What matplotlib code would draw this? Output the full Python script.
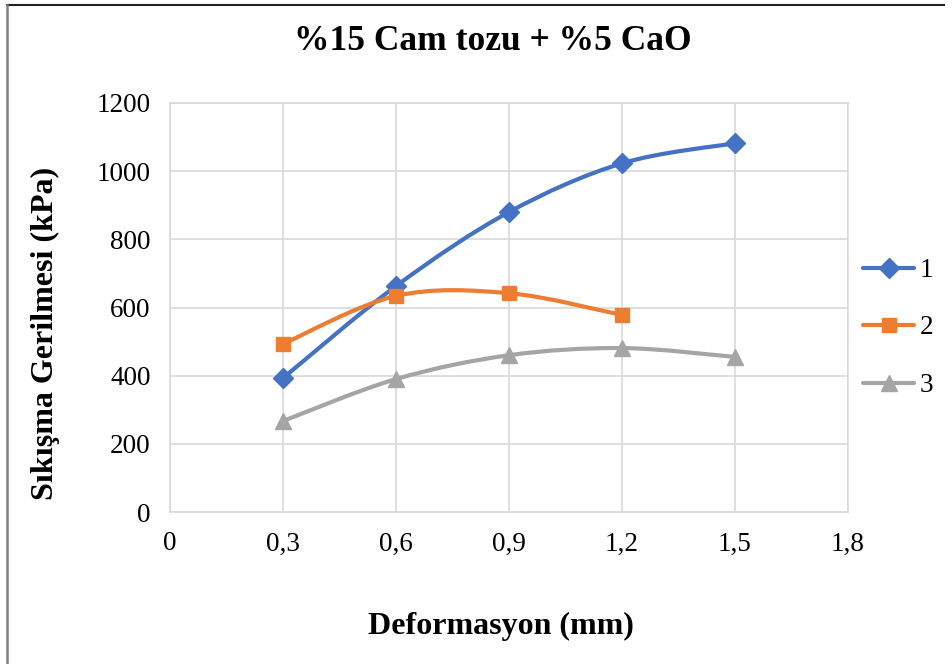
import numpy as np
from matplotlib import pyplot as plt
from matplotlib.path import Path
from matplotlib.patches import PathPatch
from matplotlib.lines import Line2D

plt.rcParams['font.family'] = ['Liberation Serif', 'DejaVu Serif']

# veriler
x1 = [0.3, 0.6, 0.9, 1.2, 1.5]
y1 = [393, 663, 880, 1023, 1082]
x2 = [0.3, 0.6, 0.9, 1.2]
y2 = [493, 634, 642, 578]
x3 = [0.3, 0.6, 0.9, 1.2, 1.5]
y3 = [267, 390, 460, 481, 455]
seriler = ['1', '2', '3']
renkler = ['#4472C4', '#ED7D31', '#A5A5A5']
x_ticks = [0, 0.3, 0.6, 0.9, 1.2, 1.5, 1.8]
x_tick_labels = ['0', '0,3', '0,6', '0,9', '1,2', '1,5', '1,8']
y_ticks = [0, 200, 400, 600, 800, 1000, 1200]


def smooth_path(xs, ys):
    # Excel tarzi yumusak egri (Catmull-Rom -> Bezier)
    p = np.column_stack([xs, ys]).astype(float)
    n = len(p)
    verts = [p[0]]
    codes = [Path.MOVETO]
    for i in range(n - 1):
        p0 = p[i - 1] if i > 0 else p[i]
        p3 = p[i + 2] if i + 2 < n else p[i + 1]
        c1 = p[i] + (p[i + 1] - p0) / 6
        c2 = p[i + 1] - (p3 - p[i]) / 6
        verts += [c1, c2, p[i + 1]]
        codes += [Path.CURVE4] * 3
    return Path(verts, codes)


fig = plt.figure(figsize=(9.53, 6.64), dpi=100)
ax = fig.add_axes([170 / 953, 1 - 512 / 664, 678 / 953, 409 / 664])

markers = ['D', 's', '^']
sizes = [10, 10, 11]
data = [(x1, y1), (x2, y2), (x3, y3)]
handles = []
for (xs, ys), c, m, ms, lab in zip(data, renkler, markers, sizes, seriler):
    ax.add_patch(PathPatch(smooth_path(xs, ys), fill=False, edgecolor=c, lw=3,
                           capstyle='round', zorder=3))
    ax.plot(xs, ys, ls='none', marker=m, ms=ms, color=c, zorder=4)
    handles.append(Line2D([], [], color=c, lw=3, marker=m, ms=ms,
                          solid_capstyle='round', label=lab))

ax.set_xlim(0, 1.8)
ax.set_ylim(0, 1200)
ax.set_xticks(x_ticks)
ax.set_xticklabels(x_tick_labels)
ax.set_yticks(y_ticks)
ax.tick_params(length=0, labelsize=19.5, pad=14)
ax.grid(color='#D9D9D9', lw=1.2)
ax.set_axisbelow(True)
for s in ax.spines.values():
    s.set_color('#D9D9D9')
    s.set_linewidth(1.2)

fig.text(493 / 953, 1 - 42 / 664, '%15 Cam tozu + %5 CaO', ha='center', va='center',
         fontsize=25.5, fontweight='bold')
fig.text(501 / 953, 1 - 626 / 664, 'Deformasyon (mm)', ha='center', va='center',
         fontsize=23, fontweight='bold')
fig.text(45 / 953, 1 - 333 / 664, 'Sıkışma Gerilmesi (kPa)', ha='center', va='center',
         rotation=90, fontsize=23, fontweight='bold')

fig.legend(handles=handles, loc='center left', bbox_to_anchor=(863 / 953, 1 - 328 / 664),
           frameon=False, fontsize=19.5, handlelength=1.9, handletextpad=0.2,
           labelspacing=1.2, borderpad=0, borderaxespad=0)

# grafik cercevesi
fig.add_artist(Line2D([7 / 953, 944 / 953], [1 - 5 / 664, 1 - 5 / 664], color='#222222', lw=1.5))
fig.add_artist(Line2D([7 / 953, 7 / 953], [1 - 5 / 664, 0], color='#808080', lw=1.8))

fig.savefig('out.png', dpi=100)
